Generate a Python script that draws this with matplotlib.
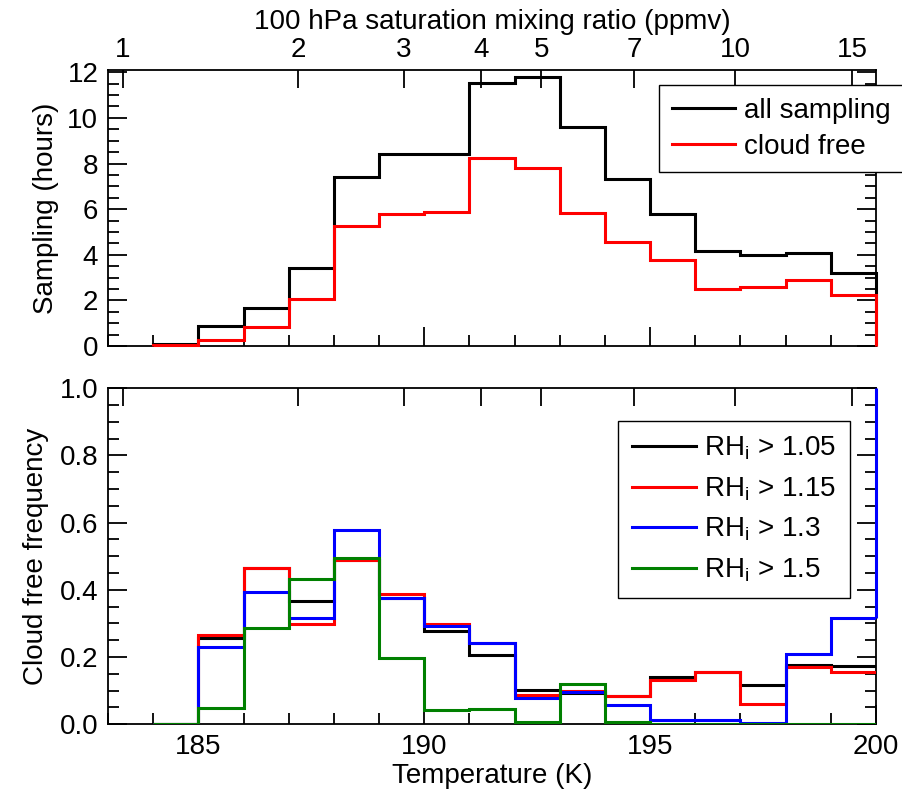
import numpy as np
import matplotlib
matplotlib.use("Agg")
import matplotlib.pyplot as plt
from matplotlib.ticker import MultipleLocator

plt.rcParams["font.family"] = ["Liberation Sans", "DejaVu Sans"]
plt.rcParams["mathtext.fontset"] = "custom"
plt.rcParams["mathtext.rm"] = "Liberation Sans"
plt.rcParams["mathtext.it"] = "Liberation Sans"
plt.rcParams["font.size"] = 20

# temperature bins (K)
edges = np.arange(184, 201, 1)

# sampling hours per bin
all_sampling = [0.07, 0.89, 1.65, 3.43, 7.41, 8.43, 8.43, 11.52, 11.79,
                9.60, 7.34, 5.78, 4.17, 4.01, 4.06, 3.18]
cloud_free = [0.05, 0.26, 0.85, 2.06, 5.25, 5.78, 5.86, 8.24, 7.80,
              5.81, 4.57, 3.79, 2.51, 2.60, 2.89, 2.23]

# cloud free frequency per bin
rh105 = [0.0, 0.257, 0.465, 0.366, 0.490, 0.375, 0.277, 0.207, 0.102,
         0.092, 0.083, 0.140, 0.157, 0.117, 0.177, 0.174]
rh115 = [0.0, 0.265, 0.464, 0.297, 0.488, 0.389, 0.299, 0.242, 0.088,
         0.100, 0.083, 0.132, 0.157, 0.061, 0.169, 0.157]
rh130 = [0.0, 0.230, 0.393, 0.316, 0.577, 0.376, 0.292, 0.242, 0.078,
         0.095, 0.058, 0.013, 0.013, 0.005, 0.210, 0.316]
rh150 = [0.0, 0.048, 0.287, 0.433, 0.494, 0.197, 0.043, 0.046, 0.006,
         0.119, 0.006, 0.0, 0.0, 0.0, 0.0, 0.0]

# top axis: 100 hPa saturation mixing ratio
mr_ticks = [1, 2, 3, 4, 5, 7, 10, 15]
p_hpa = 100.0


def mixing_ratio(T):
    # Murphy & Koop ice saturation vapour pressure (Pa) -> ppmv
    e = np.exp(9.550426 - 5723.265 / T + 3.53068 * np.log(T) - 0.00728332 * T)
    return e / (p_hpa * 100.0) * 1e6


T_grid = np.linspace(175, 210, 5000)
mr_pos = np.interp(mr_ticks, mixing_ratio(T_grid), T_grid)

lw = 2.2
tick_kw = dict(direction="in", width=1.3)

fig = plt.figure(figsize=(9.03, 7.9), dpi=100)
ax1 = fig.add_axes([0.1196, 0.562, 0.8505, 0.3494])
ax2 = fig.add_axes([0.1196, 0.0832, 0.8505, 0.4253])

# twin axes for the mixing ratio ticks (drawn first, spines hidden)
tops = []
for ax in (ax1, ax2):
    axt = ax.twiny()
    axt.set_xlim(183, 200)
    axt.set_xticks(mr_pos)
    axt.xaxis.set_minor_locator(plt.NullLocator())
    axt.tick_params(which="major", length=13, pad=5, **tick_kw)
    for s in axt.spines.values():
        s.set_visible(False)
    axt.patch.set_visible(False)
    tops.append(axt)
tops[0].set_xticklabels([str(m) for m in mr_ticks])
tops[0].set_xlabel("100 hPa saturation mixing ratio (ppmv)", labelpad=6)
tops[1].set_xticklabels([])
for ax in (ax1, ax2):
    ax.set_zorder(2)
    ax.patch.set_visible(False)

# ---- top panel
ax1.stairs(all_sampling, edges, baseline=0, color="black", lw=lw,
           label="all sampling", zorder=3, clip_on=False)
ax1.stairs(cloud_free, edges, baseline=0, color="red", lw=lw,
           label="cloud free", zorder=3, clip_on=False)
ax1.set_xlim(183, 200)
ax1.set_ylim(0, 12.1)
ax1.yaxis.set_major_locator(MultipleLocator(2))
ax1.yaxis.set_minor_locator(MultipleLocator(0.5))
ax1.set_ylabel("Sampling (hours)", labelpad=6)
leg1 = ax1.legend(loc="upper left",
                  bbox_to_anchor=(659 / 903, 1 - 173 / 790, 250 / 903, 88 / 790),
                  bbox_transform=fig.transFigure, mode="expand", borderaxespad=0,
                  fancybox=False, edgecolor="black", framealpha=1,
                  handlelength=2.3, handletextpad=0.3, borderpad=0.45,
                  labelspacing=0.37, fontsize=20)
leg1.set_zorder(5)

# ---- bottom panel
for vals, col, lab in [(rh105, "black", "1.05"), (rh115, "red", "1.15"),
                       (rh130, "blue", "1.3"), (rh150, "green", "1.5")]:
    ax2.stairs(vals, edges, baseline=None, color=col, lw=lw, zorder=3,
               label=r"RH$_\mathrm{i}$ > " + lab)
ax2.vlines(edges[-1], rh130[-1], 1.0, color="blue", lw=lw, zorder=4, clip_on=False)
ax2.set_xlim(183, 200)
ax2.set_ylim(0, 1)
ax2.yaxis.set_major_locator(MultipleLocator(0.2))
ax2.yaxis.set_minor_locator(MultipleLocator(0.05))
ax2.set_ylabel("Cloud free frequency", labelpad=8)
ax2.set_xlabel("Temperature (K)", labelpad=2)
leg2 = ax2.legend(loc="upper left", bbox_to_anchor=(618 / 903, 1 - 421 / 790),
                  bbox_transform=fig.transFigure, borderaxespad=0, fancybox=False,
                  edgecolor="black", framealpha=1, handlelength=2.3,
                  handletextpad=0.3, borderpad=0.5, labelspacing=0.47, fontsize=20)
leg2.set_zorder(5)

for ax in (ax1, ax2):
    ax.xaxis.set_major_locator(MultipleLocator(5))
    ax.xaxis.set_minor_locator(MultipleLocator(1))
    ax.tick_params(which="major", length=14, pad=7, **tick_kw)
    ax.tick_params(which="minor", length=8, **tick_kw)
    ax.tick_params(which="both", top=False, right=True)
    for s in ax.spines.values():
        s.set_linewidth(1.3)

ax1.tick_params(axis="x", labelbottom=False)

fig.savefig("out.png", dpi=100)
